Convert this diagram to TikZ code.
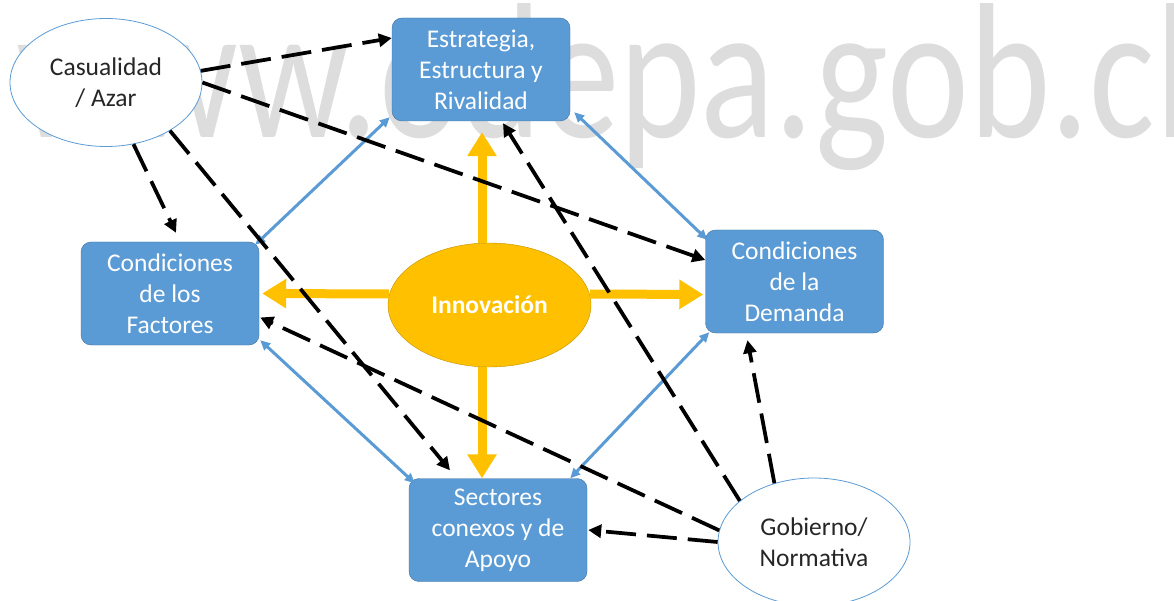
\documentclass[tikz,border=0pt]{standalone}
\usepackage{graphicx}
\usepackage{fontspec}
\setmainfont{Carlito}
\usetikzlibrary{shapes.geometric,arrows.meta}
\definecolor{boxblue}{RGB}{91,155,213}
\definecolor{boxedge}{RGB}{65,113,156}
\definecolor{innogold}{RGB}{255,192,0}
\definecolor{goldedge}{RGB}{190,144,0}
\definecolor{markgray}{RGB}{221,221,221}
\begin{document}
\begin{tikzpicture}[x=1pt,y=-1pt,
fuerza/.style={draw=boxedge,fill=boxblue,rounded corners=10pt,minimum width=178pt,minimum height=103pt,inner sep=0pt,align=center,text=white,font=\fontsize{25.5}{31}\selectfont},
externo/.style={draw=boxblue,line width=0.8pt,fill=white,ellipse,minimum width=192pt,minimum height=128pt,inner sep=0pt,align=center,text=black!85,font=\fontsize{25.5}{31}\selectfont},
flecha/.style={innogold,line width=9pt,-{Triangle[length=24pt,width=28pt]}},
enlace/.style={boxblue,line width=3pt,{Triangle[length=10pt,width=9pt]}-{Triangle[length=10pt,width=9pt]}},
influye/.style={black,line width=3.75pt,dash pattern=on 30pt off 11pt,-{Triangle[length=13pt,width=13pt]}}]
\useasboundingbox (0,0) rectangle (1174,601);
\node[anchor=base west,inner sep=0pt,text=markgray,font=\fontsize{155}{155}\selectfont] (marca) at (16,138){\scalebox{1}[1.245]{www.odepa.gob.cl}};
\node[externo] (Cas) at (106,82.5){Casualidad\\/ Azar};
\node[externo] (Gob) at (814,542){Gobierno/\\Normativa};
\node[fuerza] (Est) at (481,69.5){Estrategia,\\Estructura y\\Rivalidad};
\node[fuerza] (Fac) at (170,293.5){Condiciones\\de los\\Factores};
\node[fuerza] (Dem) at (794.5,281.5){Condiciones\\de la\\Demanda};
\node[fuerza] (Sec) at (498,530){Sectores\\conexos y de\\Apoyo};
\node[ellipse,draw=goldedge,fill=innogold,minimum width=203pt,minimum height=124pt,text=white,font=\fontsize{25.5}{31}\selectfont\bfseries] (Inn) at (489.5,305){Innovación};
\draw[flecha] ([shift={(-7.5,0)}]Inn.north)--([shift={(1,11)}]Est.south);
\draw[flecha] ([shift={(-7.5,0)}]Inn.south)--([shift={(-16,0)}]Sec.north);
\draw[flecha] ([shift={(1,-11)}]Inn.west)--([shift={(3,0)}]Fac.east);
\draw[flecha] ([shift={(-1,-11)}]Inn.east)--([shift={(-2,13)}]Dem.west);
\draw[enlace] ([shift={(-4,3)}]Fac.north east)--([shift={(-2,-4)}]Est.south west);
\draw[enlace] ([shift={(4,-9)}]Est.south east)--([shift={(2,10)}]Dem.north west);
\draw[enlace] ([shift={(1,-5)}]Fac.south east)--([shift={(6,5)}]Sec.north west);
\draw[enlace] ([shift={(-17,0)}]Sec.north east)--([shift={(4,-1)}]Dem.south west);
\draw[influye] (Cas.7)--([shift={(0,-31.5)}]Est.west);
\draw[influye] (Cas.0)--([shift={(0,-21.5)}]Dem.west);
\draw[influye] (Cas.-66)--([shift={(6,-9)}]Fac.north);
\draw[influye] (Cas.-37)--([shift={(-48,-8)}]Sec.north);
\draw[influye] (Gob.151)--([shift={(22,2)}]Est.south);
\draw[influye] (Gob.124)--([shift={(-47,7)}]Dem.south);
\draw[influye] (Gob.173)--([shift={(1,24)}]Fac.east);
\draw[influye] (Gob.180)--([shift={(1,0)}]Sec.east);
\end{tikzpicture}
\end{document}
